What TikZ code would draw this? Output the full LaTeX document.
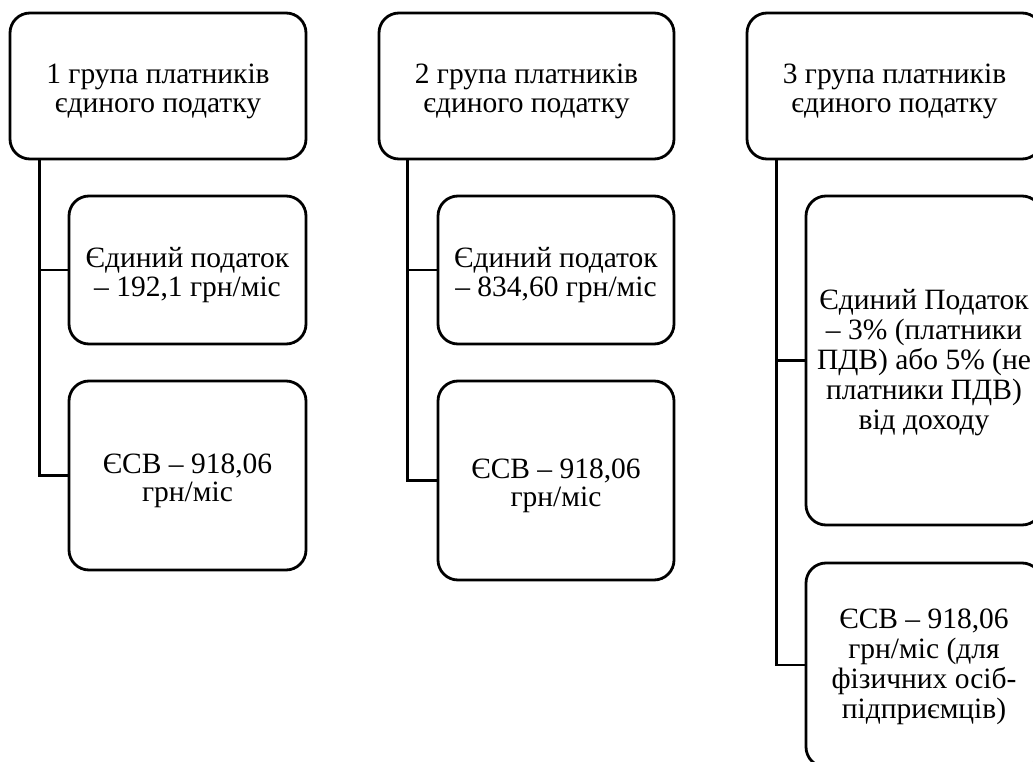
\documentclass[tikz,border=0pt]{standalone}
\usepackage{fontspec}
\setmainfont{Liberation Serif}
\begin{document}
\begin{tikzpicture}[x=1pt,y=-1pt,
  box/.style={draw=black,line width=2.8pt,rounded corners=20pt,rectangle,inner sep=0pt,
    align=center,font=\fontsize{29.5}{28.3}\selectfont},
  twolines/.style={text height=59pt,text depth=6.5pt},
  boxc/.style={box,font=\fontsize{29.5}{30}\selectfont},
  fivelines/.style={text height=144.5pt,text depth=6.5pt},
  fourlines/.style={text height=113.5pt,text depth=6.5pt},
  conn/.style={draw=black,line width=2.8pt}]
\useasboundingbox (0,0) rectangle (1033,762);
% column 1
\node[box,twolines,minimum width=296pt,minimum height=146pt] (g1) at (158,86) {1 група платників\\єдиного податку};
\node[box,twolines,minimum width=237pt,minimum height=148pt] (g1a) at (187.5,270) {Єдиний податок\\– 192,1 грн/міс};
\node[box,twolines,minimum width=237pt,minimum height=189pt] (g1b) at (187.5,475.5) {ЄСВ – 918,06\\грн/міс};
\coordinate (t1) at ([xshift=30.5pt]g1.south west);
\draw[conn] (t1) |- (g1a.west);
\draw[conn] (t1) |- (g1b.west);
% column 2
\node[box,twolines,minimum width=295pt,minimum height=146pt] (g2) at (526.5,86) {2 група платників\\єдиного податку};
\node[box,twolines,minimum width=236pt,minimum height=148pt] (g2a) at (556,270) {Єдиний податок\\– 834,60 грн/міс};
\node[box,twolines,minimum width=236pt,minimum height=199pt] (g2b) at (556,480.5) {ЄСВ – 918,06\\грн/міс};
\coordinate (t2) at ([xshift=30pt]g2.south west);
\draw[conn] (t2) |- (g2a.west);
\draw[conn] (t2) |- (g2b.west);
% column 3
\node[box,twolines,minimum width=295pt,minimum height=146pt] (g3) at (894.5,86) {3 група платників\\єдиного податку};
\node[boxc,fivelines,minimum width=236pt,minimum height=329pt] (g3a) at (924,360.5) {Єдиний Податок\\– 3\% (платники\\ПДВ) або 5\% (не\\платники ПДВ)\\від доходу};
\node[boxc,fourlines,minimum width=236pt,minimum height=204pt] (g3b) at (924,665) {ЄСВ – 918,06\\грн/міс (для\\фізичних осіб-\\підприємців)};
\coordinate (t3) at ([xshift=31pt]g3.south west);
\draw[conn] (t3) |- (g3a.west);
\draw[conn] (t3) |- (g3b.west);
\end{tikzpicture}
\end{document}
